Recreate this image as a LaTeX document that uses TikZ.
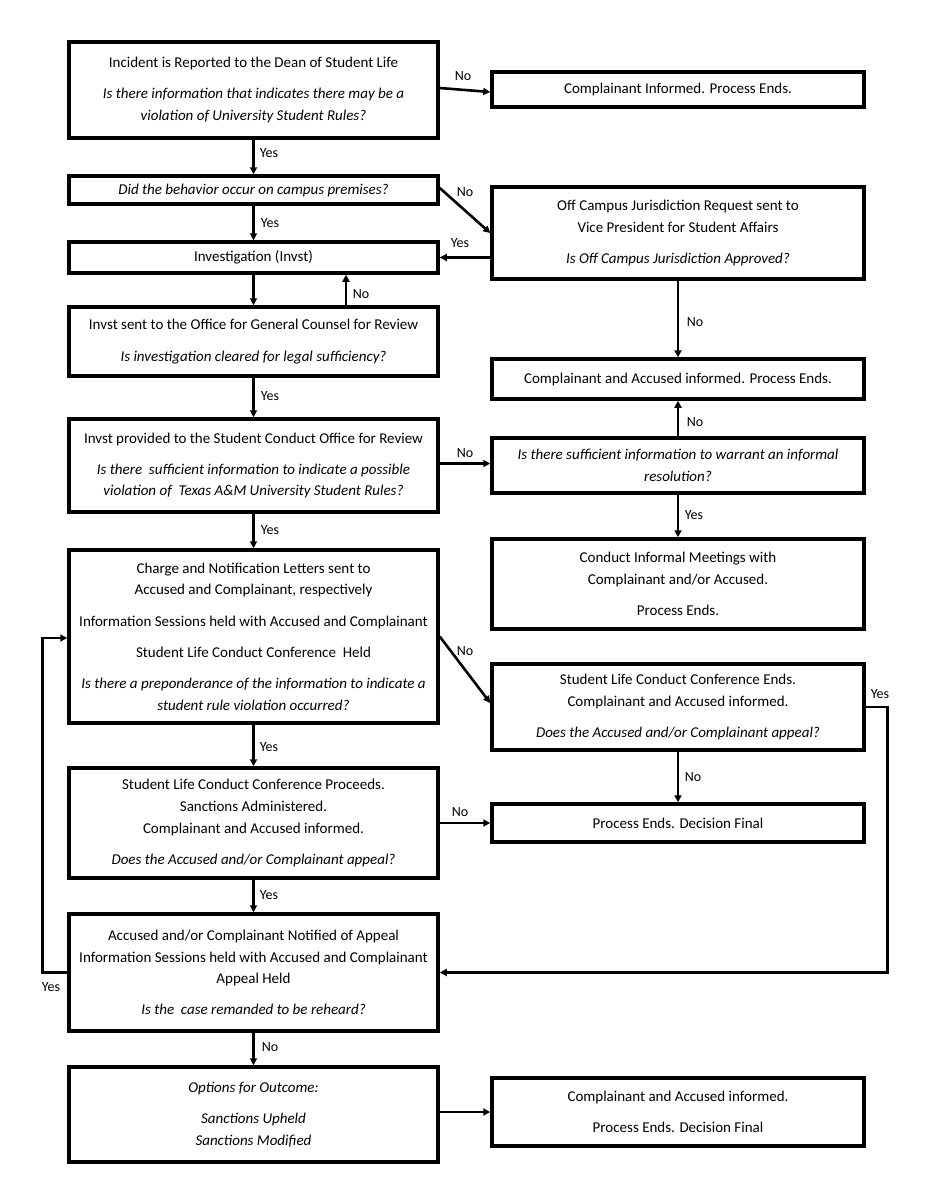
\documentclass[tikz,border=0pt]{standalone}
\usepackage{fontspec}
\setmainfont{Carlito}
\usetikzlibrary{arrows.meta,calc}
\tikzset{
  box/.style={draw=black, line width=3.5pt, rectangle, align=center, inner sep=0pt,
    font=\fontsize{15}{21.7}\selectfont},
  lbox/.style={box, minimum width=369pt},
  rbox/.style={box, minimum width=372pt},
  arr/.style={line width=2.6pt, -{Triangle[length=7pt,width=7pt]}},
  lbl/.style={font=\fontsize{14}{16}\selectfont, inner sep=0pt}
}
\newcommand{\pgap}{\\[9.5pt]}
\begin{document}
\begin{tikzpicture}[x=1pt,y=-1pt]
\useasboundingbox (0,0) rectangle (927,1200);
% left column
\node[lbox, minimum height=96pt] (b1) at (253.5,90) {Incident is Reported to the Dean of Student Life\pgap
  \textit{Is there information that indicates there may be a}\\
  \textit{violation of University Student Rules?}};
\node[lbox, minimum height=28pt] (b3) at (253.5,190) {\textit{Did the behavior occur on campus premises?}};
\node[lbox, minimum height=31pt] (b5) at (253.5,257.5) {Investigation (Invst)};
\node[lbox, minimum height=69pt] (b6) at (253.5,341.5) {Invst sent to the Office for General Counsel for Review\pgap
  \textit{Is investigation cleared for legal sufficiency?}};
\node[lbox, minimum height=93pt] (b8) at (253.5,465.5) {Invst provided to the Student Conduct Office for Review\pgap
  \textit{Is there\ \ sufficient information to indicate a possible}\\
  \textit{violation of\ \ Texas A\&M University Student Rules?}};
\node[lbox, minimum height=173pt] (b11) at (253.5,636.5) {Charge and Notification Letters sent to\\
  Accused and Complainant, respectively\pgap
  Information Sessions held with Accused and Complainant\pgap
  Student Life Conduct Conference\ \ Held\pgap
  \textit{Is there a preponderance of the information to indicate a}\\
  \textit{student rule violation occurred?}};
\node[lbox, minimum height=110pt] (b13) at (253.5,823) {Student Life Conduct Conference Proceeds.\\
  Sanctions Administered.\\
  Complainant and Accused informed.\pgap
  \textit{Does the Accused and/or Complainant appeal?}};
\node[lbox, minimum height=117pt] (b15) at (253.5,972.5) {Accused and/or Complainant Notified of Appeal\\
  Information Sessions held with Accused and Complainant\\
  Appeal Held\pgap
  \textit{Is the\ \ case remanded to be reheard?}};
\node[lbox, minimum height=95pt] (b16) at (253.5,1114.5) {\textit{Options for Outcome:}\pgap
  \textit{Sanctions Upheld}\\
  \textit{Sanctions Modified}};
% right column
\node[rbox, minimum height=35pt] (b2) at (678,89.5) {Complainant Informed. Process Ends.};
\node[rbox, minimum height=92pt] (b4) at (678,233) {Off Campus Jurisdiction Request sent to\\
  Vice President for Student Affairs\pgap
  \textit{Is Off Campus Jurisdiction Approved?}};
\node[rbox, minimum height=40pt] (b7) at (678,379) {Complainant and Accused informed. Process Ends.};
\node[rbox, minimum height=55pt] (b9) at (678,465.5) {\textit{Is there sufficient information to warrant an informal}\\
  \textit{resolution?}};
\node[rbox, minimum height=90pt] (b10) at (678,584) {Conduct Informal Meetings with\\
  Complainant and/or Accused.\pgap
  Process Ends.};
\node[rbox, minimum height=86pt] (b12) at (678,707) {Student Life Conduct Conference Ends.\\
  Complainant and Accused informed.\pgap
  \textit{Does the Accused and/or Complainant appeal?}};
\node[rbox, minimum height=38pt] (b14) at (678,823) {Process Ends. Decision Final};
\node[rbox, minimum height=68pt] (b17) at (678,1112) {Complainant and Accused informed.\pgap
  Process Ends. Decision Final};
% connectors
\draw[arr] ([yshift=2pt]b1.east) -- ([yshift=-2.5pt]b2.west);
\draw[arr] (b1.south) -- (b3.north);
\draw[arr] ([yshift=2pt]b3.east) -- (b4.west);
\draw[arr] (b3.south) -- (b5.north);
\draw[arr] (b4.west |- b5.east) -- (b5.east);
\draw[arr] (b5.south) -- (b6.north);
\draw[arr] ([xshift=92.5pt]b6.north) -- ([xshift=92.5pt]b5.south);
\draw[arr] (b4.south) -- (b7.north);
\draw[arr] (b6.south) -- (b8.north);
\draw[arr] ([yshift=2pt]b8.east) -- ([yshift=2pt]b9.west);
\draw[arr] (b9.north) -- (b7.south);
\draw[arr] (b9.south) -- (b10.north);
\draw[arr] (b8.south) -- (b11.north);
\draw[arr] (b11.east) -- ([yshift=4pt]b12.west);
\draw[arr] (b12.south) -- (b14.north);
\draw[arr] (b11.south) -- (b13.north);
\draw[arr] (b13.east) -- (b14.west);
\draw[arr] (b13.south) -- (b15.north);
\draw[arr] (b12.east) -- ++(22pt,0) |- (b15.east);
\draw[arr] (b15.west) -- ++(-25pt,0) |- ([yshift=-1.5pt]b11.west);
\draw[arr] (b15.south) -- (b16.north);
\draw[arr] (b16.east |- b17.west) -- (b17.west);
% labels
\node[lbl] (l1) at (463,76) {No};
\node[lbl] (l2) at (269,153) {Yes};
\node[lbl] (l3) at (465,192) {No};
\node[lbl] (l4) at (270,223) {Yes};
\node[lbl] (l5) at (460,243) {Yes};
\node[lbl] (l6) at (361,294) {No};
\node[lbl] (l7) at (695,322) {No};
\node[lbl] (l8) at (270,396) {Yes};
\node[lbl] (l9) at (465,453) {No};
\node[lbl] (l10) at (695,422) {No};
\node[lbl] (l11) at (694,515) {Yes};
\node[lbl] (l12) at (270,530) {Yes};
\node[lbl] (l13) at (465,651) {No};
\node[lbl] (l14) at (880,694) {Yes};
\node[lbl] (l15) at (269,747) {Yes};
\node[lbl] (l16) at (693,777) {No};
\node[lbl] (l17) at (460,812) {No};
\node[lbl] (l18) at (269,895) {Yes};
\node[lbl] (l19) at (51,987) {Yes};
\node[lbl] (l20) at (270,1047) {No};
\end{tikzpicture}
\end{document}
